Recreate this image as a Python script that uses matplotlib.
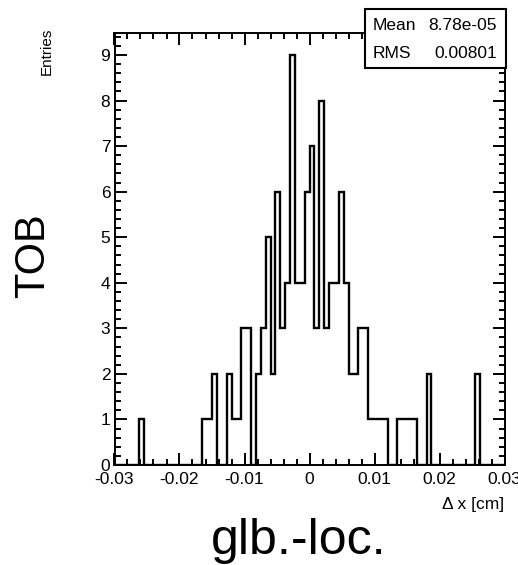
import numpy as np
import matplotlib
matplotlib.use("Agg")
import matplotlib.pyplot as plt
from matplotlib.patches import Rectangle
from matplotlib.ticker import MultipleLocator, FixedLocator, FixedFormatter

plt.rcParams['font.family'] = ['Liberation Sans', 'DejaVu Sans']

# histogram: 80 bins from -0.03 to 0.03 cm
x_min, x_max, n_bins = -0.03, 0.03, 80
counts = [
    0, 0, 0, 0, 0, 1, 0, 0, 0, 0,
    0, 0, 0, 0, 0, 0, 0, 0, 1, 1,
    2, 0, 0, 2, 1, 1, 3, 3, 0, 2,
    3, 5, 2, 6, 3, 4, 9, 4, 4, 6,
    7, 3, 8, 3, 4, 4, 6, 4, 2, 2,
    3, 3, 1, 1, 1, 1, 0, 0, 1, 1,
    1, 1, 0, 0, 2, 0, 0, 0, 0, 0,
    0, 0, 0, 0, 2, 0, 0, 0, 0, 0,
]
x_ticks = [-0.03, -0.02, -0.01, 0.0, 0.01, 0.02, 0.03]
x_tick_labels = ["-0.03", "-0.02", "-0.01", "0", "0.01", "0.02", "0.03"]
y_ticks = list(range(10))
stats_names = ["Mean", "RMS"]
stats_values = ["8.78e-05", "0.00801"]

W, H = 518, 565
fig = plt.figure(figsize=(W / 100, H / 100), dpi=100)
ax = fig.add_axes([114.5 / W, 1 - 465 / H, 390 / W, (465 - 33.3) / H])

edges = np.linspace(x_min, x_max, n_bins + 1)
ax.stairs(counts, edges, color="black", lw=1.7, baseline=0)

ax.set_xlim(x_min, x_max)
ax.set_ylim(0, 9.475)

ax.xaxis.set_major_locator(FixedLocator(x_ticks))
ax.xaxis.set_major_formatter(FixedFormatter(x_tick_labels))
ax.xaxis.set_minor_locator(MultipleLocator(0.002))
ax.yaxis.set_major_locator(FixedLocator(y_ticks))
ax.yaxis.set_minor_locator(MultipleLocator(0.2))

ax.tick_params(which="both", direction="in", top=True, right=True, width=1.4, colors="black")
ax.tick_params(which="major", length=8.5)
ax.tick_params(which="minor", length=4.2)
ax.tick_params(axis="x", which="major", labelsize=12.5, pad=5)
ax.tick_params(axis="y", which="major", labelsize=12.5, pad=3)
for s in ax.spines.values():
    s.set_linewidth(1.4)

# stats box
box = Rectangle((365 / W, 1 - 67.7 / H), 141 / W, 58.4 / H, transform=fig.transFigure,
                facecolor="white", edgecolor="black", lw=1.5, zorder=10)
fig.patches.append(box)
for i, (name, val) in enumerate(zip(stats_names, stats_values)):
    yy = 1 - (25 + 28.3 * i) / H
    fig.text(373 / W, yy, name, ha="left", va="center", fontsize=12.5, zorder=11)
    fig.text(497 / W, yy, val, ha="right", va="center", fontsize=12.5, zorder=11)

fig.text(504.5 / W, 1 - 504.5 / H, "\u0394 x [cm]", ha="right", va="center", fontsize=12.5)
fig.text(47 / W, 1 - 28 / H, "Entries", ha="center", va="top", rotation=90, fontsize=11)
fig.text(33 / W, 1 - 256 / H, "TOB", ha="center", va="center", rotation=90, fontsize=30)
fig.text(299 / W, 1 - 554 / H, "glb.-loc.", ha="center", va="baseline", fontsize=36)

fig.savefig("out.png", dpi=100)
